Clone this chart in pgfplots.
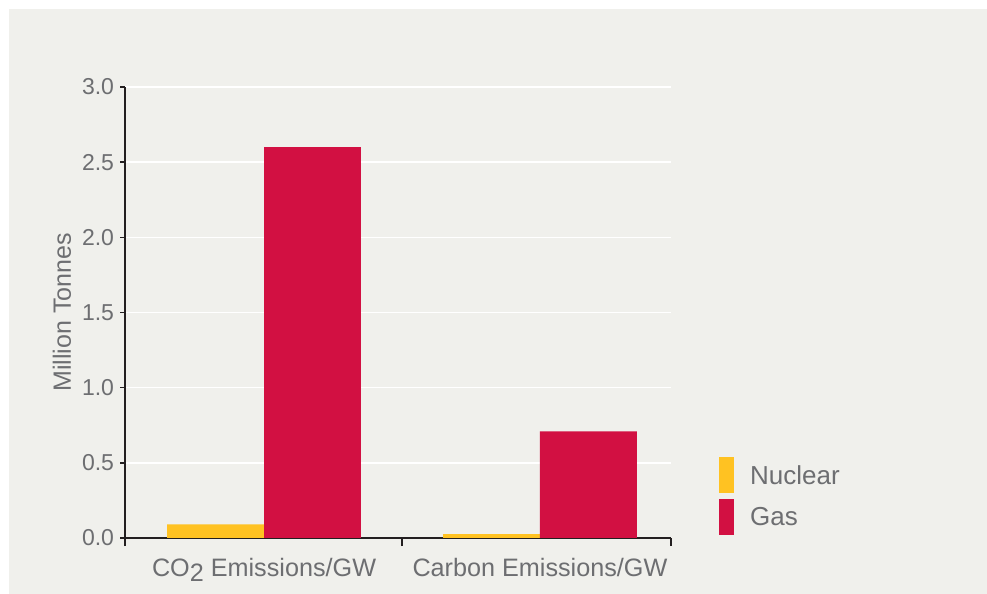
\documentclass[border=0pt]{standalone}
\usepackage{pgfplots}
\pgfplotsset{compat=1.18}
\usepackage{fontspec}
\setmainfont{Liberation Sans}
\definecolor{panel}{HTML}{F0F0EC}
\definecolor{nucl}{HTML}{FFC222}
\definecolor{gas}{HTML}{D21042}
\definecolor{txt}{HTML}{6D6E71}
\definecolor{axdark}{HTML}{231F20}
\begin{document}
\begin{tikzpicture}
\fill[white] (0,0) rectangle (987bp,594bp);
\fill[panel] (9bp,0) rectangle (987bp,585bp);
\begin{axis}[
  at={(125bp,56bp)}, anchor=south west,
  scale only axis, width=546bp, height=451bp,
  xmin=-0.504, xmax=1.475, ymin=0, ymax=3,
  ybar=0pt, bar width=0.351,
  axis x line*=bottom, axis y line*=left,
  axis line style={-, line width=2.2bp, draw=axdark},
  tick align=outside,
  xtick={0,1},
  xticklabels={{CO\raisebox{-5bp}{2} Emissions/GW},{Carbon Emissions/GW}},
  major x tick style={draw=none},
  minor xtick={-0.504,0.5,1.475},
  minor x tick style={draw=axdark, line width=1.5bp},
  minor tick length=8bp,
  major tick length=5bp,
  ytick={0,0.5,1,1.5,2,2.5,3},
  ytick style={draw=axdark, line width=1.5bp},
  ymajorgrids, major grid style={white, line width=1.5bp},
  /pgf/number format/assume math mode=true,
  yticklabel style={/pgf/number format/.cd, fixed, fixed zerofill, precision=1, /tikz/.cd,
    font=\fontsize{23bp}{27bp}\selectfont, text=txt, xshift=-2.5bp},
  xticklabel style={font=\fontsize{25.2bp}{30bp}\selectfont, text=txt, yshift=-12bp},
  ylabel={Million Tonnes},
  ylabel style={at={(axis description cs:-0.1154,0.5)}, anchor=center,
    font=\fontsize{25bp}{30bp}\selectfont, text=txt},
  legend cell align=left,
  legend image code/.code={\fill[#1] (0bp,-18bp) rectangle (15bp,18bp);},
  legend style={at={(axis description cs:1.0879,0.1796)}, anchor=north west,
    draw=none, fill=none, inner sep=0pt,
    nodes={inner sep=0pt, text depth=0pt},
    row sep=5.5bp, column sep=16bp,
    font=\fontsize{26bp}{30bp}\selectfont, text=txt},
]
\addplot[fill=nucl, draw=none] coordinates {(0,0.09) (1,0.025)};
\addplot[fill=gas, draw=none] coordinates {(0,2.6) (1,0.71)};
\legend{Nuclear, Gas}
\end{axis}
\pgfresetboundingbox
\useasboundingbox (0,0) rectangle (987bp,594bp);
\end{tikzpicture}
\end{document}
